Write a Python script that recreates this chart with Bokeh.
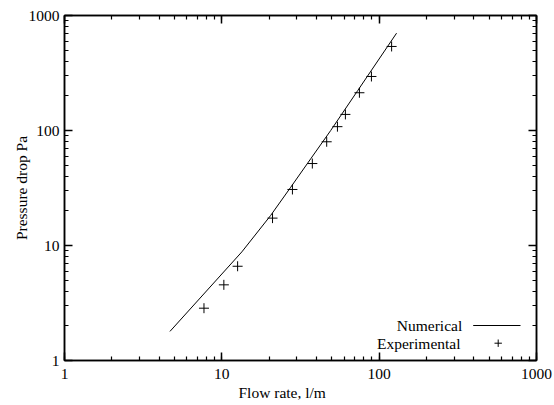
import math
from bokeh.plotting import figure
from bokeh.models import (Range1d, LogAxis, LogTicker, Label, Arrow, Title,
                          BasicTickFormatter)
from bokeh.embed import file_html
from bokeh.resources import INLINE

# ---- data ----
flow_num = [4.68, 13.4, 20.4, 27.4, 36.7, 49.2, 73.0, 129.0]
dp_num = [1.79, 8.8, 18.2, 32.1, 56.7, 100.0, 222.0, 702.0]

flow_exp = [7.7, 10.3, 12.6, 21.0, 28.1, 37.6, 46.4, 54.3, 61.0, 74.9, 89.3, 120.0]
dp_exp = [2.85, 4.55, 6.6, 17.3, 30.7, 51.6, 79.8, 108.0, 138.0, 213.0, 295.0, 538.0]

x_label = "Flow rate, l/m"
y_label = "Pressure drop Pa"
series_names = ["Numerical", "Experimental"]

FONT = "Liberation Serif"
FS = "15.5px"

p = figure(width=554, height=405, x_axis_type="log", y_axis_type="log",
           x_range=Range1d(1, 1000), y_range=Range1d(1, 1000),
           output_backend="svg", toolbar_location=None,
           min_border_left=64, min_border_right=18,
           min_border_top=15, min_border_bottom=45)
p.grid.visible = False
p.background_fill_color = "white"
p.border_fill_color = "white"
p.outline_line_color = "black"
p.outline_line_width = 1.5


def style_axis(ax):
    ax.ticker = LogTicker(num_minor_ticks=10)
    ax.formatter = BasicTickFormatter(use_scientific=False)
    ax.axis_line_color = "black"
    ax.axis_line_width = 1.5
    ax.major_tick_in = 8
    ax.major_tick_out = 0
    ax.minor_tick_in = 4
    ax.minor_tick_out = 0
    ax.major_tick_line_width = 1.5
    ax.minor_tick_line_width = 1.2
    ax.major_tick_line_color = "black"
    ax.minor_tick_line_color = "black"
    ax.major_label_text_font = FONT
    ax.major_label_text_font_size = FS
    ax.major_label_text_color = "black"
    ax.major_label_text_font_style = "normal"
    ax.axis_label_text_font = FONT
    ax.axis_label_text_font_size = FS
    ax.axis_label_text_font_style = "normal"
    ax.axis_label_text_color = "black"


for ax in p.xaxis:
    style_axis(ax)
    ax.major_label_standoff = 8
for ax in p.yaxis:
    style_axis(ax)
    ax.major_label_standoff = 5
    ax.axis_label = y_label
    ax.axis_label_standoff = -4

top = LogAxis()
style_axis(top)
top.major_label_text_alpha = 0
top.major_label_text_font_size = "2px"
top.major_label_standoff = 0
p.add_layout(top, "above")
right = LogAxis()
style_axis(right)
right.major_label_text_alpha = 0
right.major_label_text_font_size = "2px"
right.major_label_standoff = 0
p.add_layout(right, "right")

p.line(flow_num, dp_num, line_color="black", line_width=1)
p.scatter(flow_exp, dp_exp, marker="cross", size=10,
          line_color="black", line_width=1)

# x axis title (placed a little left of the frame centre, as in the reference)
p.add_layout(Title(text=x_label, align="left", offset=174, standoff=0,
                   text_font=FONT, text_font_size=FS,
                   text_font_style="normal", text_color="black"), "below")

# legend: text on the left, sample on the right (frame-relative screen units)
p.add_layout(Label(x=397.7, y=35, x_units="screen", y_units="screen",
                   text=series_names[0], text_font=FONT, text_font_size=FS,
                   text_align="right", text_baseline="middle",
                   text_color="black"))
p.add_layout(Label(x=396, y=17, x_units="screen", y_units="screen",
                   text=series_names[1], text_font=FONT, text_font_size=FS,
                   text_align="right", text_baseline="middle",
                   text_color="black"))
p.add_layout(Arrow(end=None, x_start=408.7, y_start=35, x_end=456, y_end=35,
                   start_units="screen", end_units="screen",
                   line_color="black", line_width=1))
p.add_layout(Arrow(end=None, x_start=430, y_start=17.3, x_end=437.4, y_end=17.3,
                   start_units="screen", end_units="screen",
                   line_color="black", line_width=1))
p.add_layout(Arrow(end=None, x_start=433.7, y_start=13.6, x_end=433.7, y_end=21,
                   start_units="screen", end_units="screen",
                   line_color="black", line_width=1))

open("out.html", "w").write(file_html(p, INLINE))
